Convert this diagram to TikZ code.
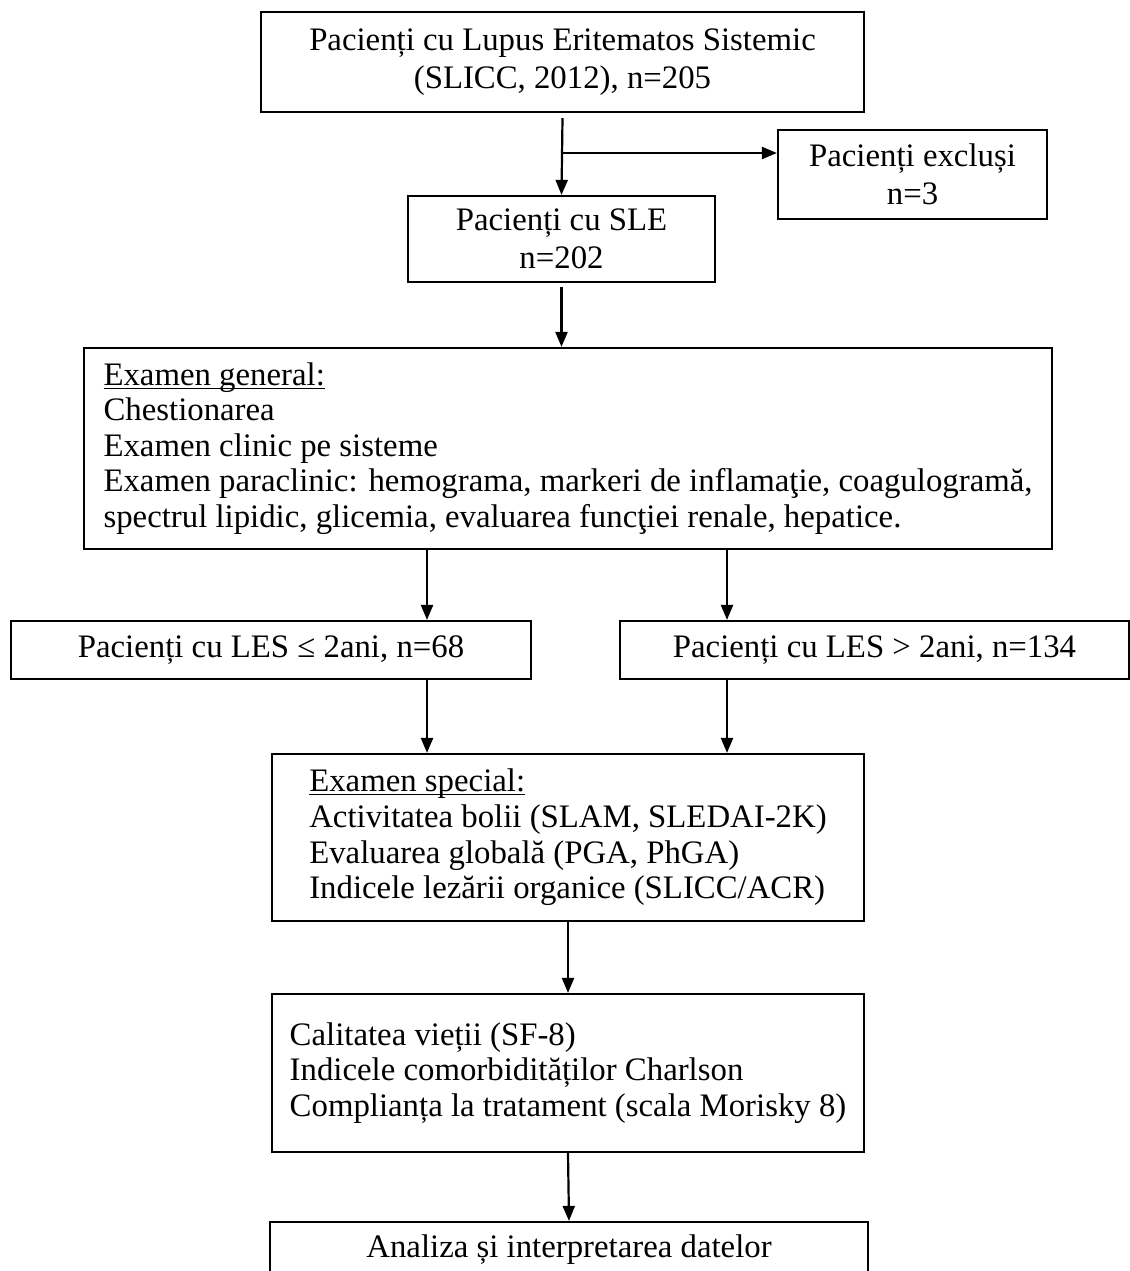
\documentclass[tikz,border=0pt]{standalone}
\usepackage{fontspec}
\setmainfont{Liberation Serif}
\usetikzlibrary{arrows.meta}

% underline sitting just below the baseline
\newcommand{\headline}[1]{\underline{\smash{#1}}\vphantom{#1}}

\begin{document}
\begin{tikzpicture}[x=0.5pt, y=-0.5pt, >={Triangle[length=7.5pt,width=6pt]},
    box/.style={draw, line width=1.1pt, inner sep=0pt,
        font=\fontsize{16.4}{17.8}\selectfont},
    conn/.style={->, line width=1.1pt}]

    % ==========================================
    % page frame (same proportions as the original)
    % ==========================================
    \useasboundingbox (0,0) rectangle (1130,1271);
    \clip (0,0) rectangle (1130,1271);

    % Columns of the two branches
    \coordinate (colL) at (427,0);
    \coordinate (colR) at (727,0);

    % Boxes
    \node[box, align=center, minimum width=301.5pt, minimum height=50pt] (top) at (562.5,62)
        {Pacienți cu Lupus Eritematos Sistemic\\[1pt](SLICC, 2012), n=205};
    \node[box, align=center, minimum width=134.5pt, minimum height=44.5pt] (excl) at (912.5,174.5)
        {Pacienți excluși\\[1pt]n=3};
    \node[box, align=center, minimum width=153.5pt, minimum height=43pt] (sle) at (561.5,239)
        {Pacienți cu SLE\\[1pt]n=202};
    \node[box, align=left, minimum width=484pt, minimum height=100.5pt] (gen) at (568,448.5)
        {\headline{Examen general:}\\
         Chestionarea\\
         Examen clinic pe sisteme\\
         Examen paraclinic: hemograma, markeri de inflamaţie, coagulogramă,\\
         spectrul lipidic, glicemia, evaluarea funcţiei renale, hepatice.};
    \node[box, minimum width=260pt, minimum height=29pt] (lesA) at (271,650)
        {Pacienți cu LES ≤ 2ani, n=68};
    \node[box, minimum width=254.5pt, minimum height=29pt] (lesB) at (874.5,650)
        {Pacienți cu LES > 2ani, n=134};
    \node[box, align=left, minimum width=296pt, minimum height=83.5pt] (spec) at (568,837.5)
        {\headline{Examen special:}\\
         Activitatea bolii (SLAM, SLEDAI-2K)\\
         Evaluarea globală (PGA, PhGA)\\
         Indicele lezării organice (SLICC/ACR)};
    \node[box, align=left, minimum width=296pt, minimum height=79pt] (qual) at (568,1073)
        {Calitatea vieții (SF-8)\\
         Indicele comorbidităților Charlson\\
         Complianța la tratament (scala Morisky 8)};
    \node[box, minimum width=299pt, minimum height=28pt] (anal) at (569,1250)
        {Analiza și interpretarea datelor};

    % Connectors
    \coordinate (split) at (562,153);
    \draw[conn] ([yshift=-2.5pt]top.south) -- (sle.north);
    \draw[conn] (split) -- (split -| excl.west);
    \draw[conn] ([yshift=-2pt]sle.south) -- (sle.south |- gen.north);
    \draw[conn] (colL |- gen.south) -- (colL |- lesA.north);
    \draw[conn] (colR |- gen.south) -- (colR |- lesB.north);
    \draw[conn] (colL |- lesA.south) -- (colL |- spec.north);
    \draw[conn] (colR |- lesB.south) -- (colR |- spec.north);
    \draw[conn] (spec.south) -- (qual.north);
    \draw[conn] (qual.south) -- (anal.north);

\end{tikzpicture}
\end{document}
